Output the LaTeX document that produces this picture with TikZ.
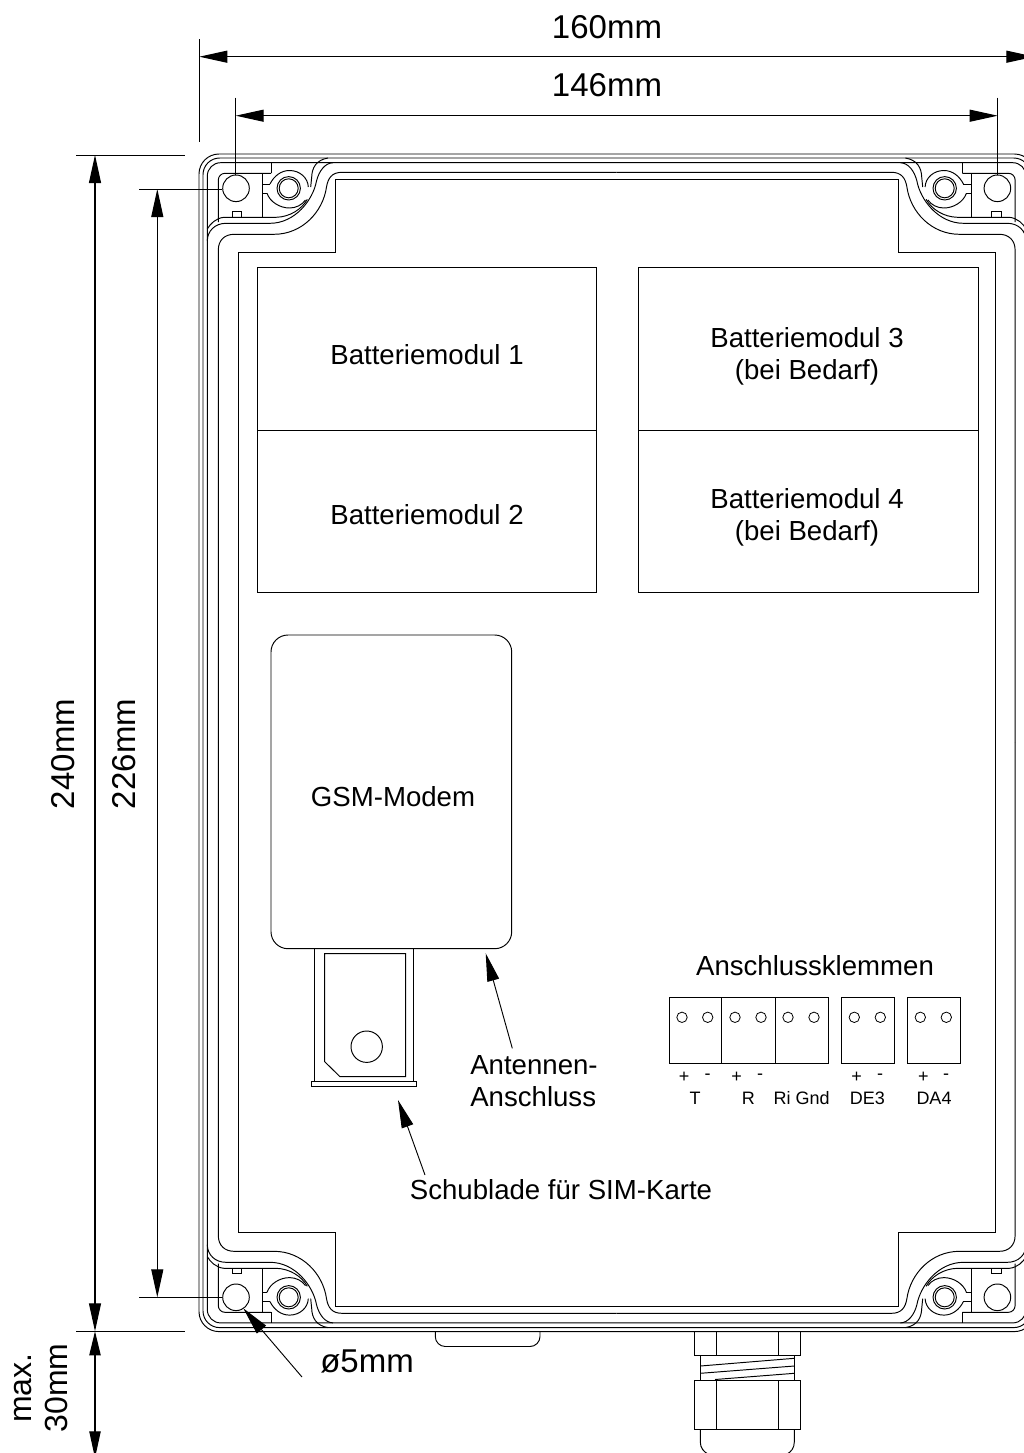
\documentclass[tikz,border=0pt]{standalone}
\usepackage{fontspec}
\setmainfont{Liberation Sans}
\usetikzlibrary{arrows.meta}
\tikzset{
  kante/.style={line width=0.72pt},
  mass/.style={line width=0.8pt,{Triangle[length=21pt,width=9pt]}-{Triangle[length=21pt,width=9pt]}},
  masskurz/.style={line width=0.8pt,{Triangle[length=18pt,width=8.5pt]}-{Triangle[length=20pt,width=8.5pt]}},
  zeiger/.style={line width=0.7pt,-{Triangle[length=21pt,width=9pt]}},
  gross/.style={font=\fontsize{24.75}{28}\selectfont,inner sep=0pt},
  mittel/.style={font=\fontsize{20.7}{24}\selectfont,inner sep=0pt,align=center},
  klein/.style={font=\fontsize{13.5}{16}\selectfont,inner sep=0pt}
}
\begin{document}
\begin{tikzpicture}[x=0.75pt,y=-0.75pt]
  \useasboundingbox (0,0) rectangle (1024,1453);
  \begin{scope}
    \clip (0,0) rectangle (1024,1453);
    % Gehaeuse
    \draw[kante,rounded corners=15pt] (199,154) rectangle (1034.4,1331.6);
    \draw[kante,rounded corners=12.5pt] (203,158) rectangle (1030.4,1327.6);
    \draw[kante,rounded corners=10pt] (207.3,162.7) rectangle (1026.1,1322.9);
    % vier gespiegelte Ecken
    \foreach \sx/\sy in {1/1,-1/1,1/-1,-1/-1} {
      \begin{scope}[shift={(616.7,742.8)},xscale=\sx,yscale=\sy,shift={(-616.7,-742.8)}]
        \draw[kante] (238.3,742.8) -- (238.3,252.7) -- (335,252.7) -- (335,179.3) -- (616.7,179.3);
        \draw[kante] (616.7,172.3) -- (342,172.3) .. controls (332,172.3) and (328,178) .. (326.5,187)
          .. controls (323,212) and (302,234.3) .. (274,234.3) -- (234,234.3)
          .. controls (225,234.3) and (218.3,240) .. (218.3,250) -- (218.3,742.8);
        \draw[kante] (333,162.7) .. controls (325,163) and (319,171) .. (316.5,181)
          .. controls (313,200) and (295,223.3) .. (270,223.3) -- (226,223.3)
          .. controls (215,223.3) and (207.3,231) .. (207.3,241);
        \draw[kante] (328,158) .. controls (316,160) and (312,168) .. (311.7,177) -- (310.7,187);
        \draw[kante] (207.3,229) .. controls (210,224) and (216,218) .. (224,217.3) -- (276,217.3)
          .. controls (290,217) and (302,209) .. (307.3,199.3);
        \draw[kante,rounded corners=5pt] (218.3,222) -- (218.3,173.3) -- (271,173.3);
        \draw[kante] (271,173.3) -- (271,162.7);
        \draw[kante] (262.3,173.3) -- (262.3,217.3);
        \draw[kante] (262.3,184) -- (270,184);
        \draw[kante] (262.3,193.3) -- (267,193.3);
        \draw[kante] (232.3,217.3) -- (232.3,211.7) -- (241.7,211.7) -- (241.7,217.3);
        \draw[kante] (236,188.3) circle[radius=13.3];
        \draw[kante] (288.7,188.3) circle[radius=11.7];
        \draw[kante] (288.7,188.3) circle[radius=9.5];
        \draw[kante] (270,184) .. controls (274,176) and (281,170.5) .. (289.5,170.5)
          .. controls (300,170.5) and (308,178) .. (308.3,187);
        \draw[kante] (267,193.3) .. controls (270,202) and (280,208) .. (289.5,208)
          .. controls (296,208) and (302,205) .. (305.5,200);
      \end{scope}
    }
    % Batteriemodule
    \draw[kante] (257,267) rectangle (596,592);
    \draw[kante] (257,430) -- (596,430);
    \draw[kante] (638,267) rectangle (978,592);
    \draw[kante] (638,430) -- (978,430);
    % Modem und Schublade
    \draw[kante,rounded corners=12.75pt] (271,635) rectangle (511.7,948.7);
    \draw[kante] (314,948.7) -- (314,1081.3);
    \draw[kante] (413.3,948.7) -- (413.3,1081.3);
    \draw[kante] (324.7,953.7) -- (405.7,953.7) -- (405.7,1076.7) -- (340,1076.7) -- (324.7,1061.7) -- cycle;
    \draw[kante] (366.7,1046.7) circle[radius=15.7];
    \draw[kante] (311.7,1081.3) rectangle (416,1086.3);
    % Klemmen
    \draw[kante] (669,997.7) rectangle (828.3,1063.7);
    \draw[kante] (721.7,997.7) -- (721.7,1063.7);
    \draw[kante] (775,997.7) -- (775,1063.7);
    \draw[kante] (841.7,997.7) rectangle (894.3,1063.7);
    \draw[kante] (907.3,997.7) rectangle (960.7,1063.7);
    \foreach \kx in {682,707.7,735,761,788,814,854.3,880.3,920.3,946.3} {
      \draw[line width=0.6pt] (\kx,1017.3) circle[radius=5.2];
    }
    % Deckellasche
    \draw[kante,rounded corners=7.5pt] (435.3,1331.6) -- (435.3,1346.5) -- (540,1346.5) -- (540,1331.6);
    % Kabelverschraubung
    \draw[kante] (694.7,1331.6) rectangle (800,1355.7);
    \draw[kante] (716,1331.6) -- (716,1355.7);
    \draw[kante] (778.3,1331.6) -- (778.3,1355.7);
    \draw[kante] (700.3,1355.7) rectangle (794.3,1380.3);
    \draw[kante] (700.3,1366) -- (794.3,1358.3);
    \draw[kante] (700.3,1373.3) -- (794.3,1366);
    \draw[kante] (715,1379.5) -- (794.3,1373.3);
    \draw[kante] (694.7,1380.3) rectangle (800,1429.3);
    \draw[kante] (716,1380.3) -- (716,1429.3);
    \draw[kante] (778.3,1380.3) -- (778.3,1429.3);
    \draw[kante] (700.3,1429.3) -- (700.3,1442) .. controls (700.3,1448) and (704,1452) .. (708,1454);
    \draw[kante] (794.3,1429.3) -- (794.3,1442) .. controls (794.3,1448) and (791,1452) .. (787,1454);
    % Masslinien
    \draw[kante] (199.3,39) -- (199.3,141.7);
    \draw[kante] (235.7,97.7) -- (235.7,175);
    \draw[kante] (997.7,97.7) -- (997.7,175);
    \draw[kante] (76,155) -- (185,155);
    \draw[kante] (76,1331.3) -- (185,1331.3);
    \draw[kante] (139,189) -- (221.7,189);
    \draw[kante] (139,1297.3) -- (221.7,1297.3);
    \coordinate (breiteL) at (199.3,56.7);
    \coordinate (breiteR) at (1034.4,56.7);
    \coordinate (lochL) at (235.7,115.7);
    \coordinate (lochR) at (997.7,115.7);
    \coordinate (hoeheO) at (95,155);
    \coordinate (hoeheU) at (95,1331.3);
    \coordinate (lochO) at (157.3,189);
    \coordinate (lochU) at (157.3,1297.3);
    \coordinate (maxU) at (95,1458);
    \draw[mass] (breiteL) -- (breiteR);
    \draw[mass] (lochL) -- (lochR);
    \draw[mass] (hoeheO) -- (hoeheU);
    \draw[mass] (lochO) -- (lochU);
    \draw[masskurz] (hoeheU) -- (maxU);
    % Zeiger
    \coordinate (antSpitze) at (485.7,953.3);
    \coordinate (antFuss) at (512.3,1048.3);
    \coordinate (simSpitze) at (398,1100);
    \coordinate (simFuss) at (425,1175);
    \coordinate (lochSpitze) at (243.3,1308.3);
    \coordinate (lochFuss) at (302,1377);
    \draw[zeiger] (antFuss) -- (antSpitze);
    \draw[zeiger] (simFuss) -- (simSpitze);
    \draw[zeiger] (lochFuss) -- (lochSpitze);
  \end{scope}
  % Texte
  \node[gross] (breite) at (607,27) {160mm};
  \node[gross] (lochbreite) at (607,85) {146mm};
  \node[gross,rotate=90] (hoehe) at (63,754) {240mm};
  \node[gross,rotate=90] (lochhoehe) at (124,754) {226mm};
  \node[font=\fontsize{24}{27.5}\selectfont,inner sep=0pt,align=center,rotate=90] (maxtiefe) at (41,1388) {max.\\30mm};
  \node[gross] (bohrung) at (367,1361) {ø5mm};
  \node[mittel] (modulA) at (427,355) {Batteriemodul 1};
  \node[mittel] (modulB) at (427,515) {Batteriemodul 2};
  \node[mittel] (modulC) at (807,356) {Batteriemodul 3\\(bei Bedarf)};
  \node[mittel] (modulD) at (807,517) {Batteriemodul 4\\(bei Bedarf)};
  \node[mittel] (modem) at (393,797) {GSM-Modem};
  \node[mittel] (klemmen) at (815,966) {Anschlussklemmen};
  \node[mittel,align=left] (antenne) at (534,1081) {Antennen-\\Anschluss};
  \node[mittel] (schublade) at (561,1190) {Schublade für SIM-Karte};
  \foreach \kx/\kn/\kt in {684/pa/+,707.7/ma/-,736.7/pb/+,760/mb/-,856.7/pc/+,880/mc/-,923.3/pd/+,946/md/-} {
    \node[klein] (\kn) at (\kx,1077) {\kt};
  }
  \node[klein] (klemmeT) at (695,1098.3) {T};
  \node[klein] (klemmeR) at (748.3,1098.3) {R};
  \node[klein] (klemmeRi) at (801.7,1098.3) {Ri Gnd};
  \node[klein] (klemmeDE) at (867.3,1098.3) {DE3};
  \node[klein] (klemmeDA) at (934,1098.3) {DA4};
\end{tikzpicture}
\end{document}
